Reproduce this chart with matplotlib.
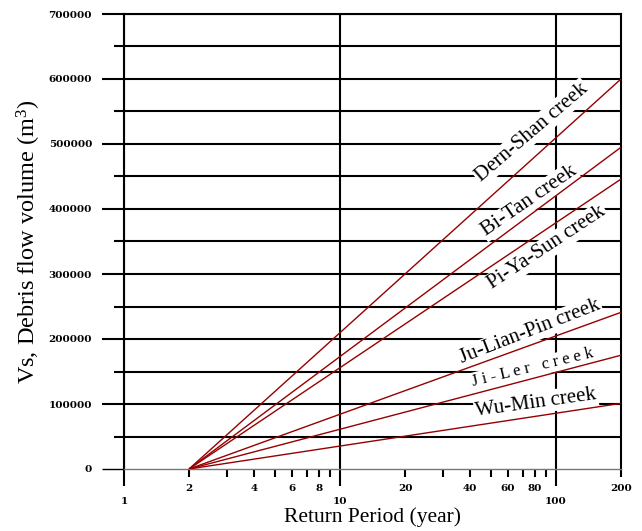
import matplotlib
matplotlib.use("Agg")
import matplotlib.pyplot as plt
from matplotlib.ticker import FixedLocator, FixedFormatter, NullFormatter

plt.rcParams["mathtext.fontset"] = "custom"
plt.rcParams["mathtext.rm"] = "Liberation Serif"
plt.rcParams["mathtext.it"] = "Liberation Serif:italic"

# ---- data ----
creeks = ["Dern-Shan creek", "Bi-Tan creek", "Pi-Ya-Sun creek",
          "Ju-Lian-Pin creek", "Ji-Ler creek", "Wu-Min creek"]
return_period = [2, 200]
dern_shan = [0, 600000]
bi_tan = [0, 495000]
pi_ya_sun = [0, 446000]
ju_lian_pin = [0, 241000]
ji_ler = [0, 175000]
wu_min = [0, 101000]
series = [dern_shan, bi_tan, pi_ya_sun, ju_lian_pin, ji_ler, wu_min]

x_major = [1, 10, 100]
x_minor = [2, 3, 4, 5, 6, 7, 8, 9, 20, 30, 40, 50, 60, 70, 80, 90, 200]
x_minor_labels = ["2", "", "4", "", "6", "", "8", "", "20", "", "40", "", "60", "", "80", "", "200"]
y_major = [0, 100000, 200000, 300000, 400000, 500000, 600000, 700000]
y_minor = [50000, 150000, 250000, 350000, 450000, 550000, 650000]

# ---- layout for the in-plot labels (position x, y, rotation, fontsize, text) ----
label_layout = [
    (77.4, 518000, 40.5, 15, "Dern-Shan creek"),
    (75.0, 412000, 34.5, 15.5, "Bi-Tan creek"),
    (90.8, 340000, 33.4, 15, "Pi-Ya-Sun creek"),
    (75.8, 211000, 21.3, 15, "Ju-Lian-Pin creek"),
    (78.3, 156000, 13.5, 12, "J i - L e r   c r e e k"),
    (80.8, 102000, 8.0, 15, "Wu-Min creek"),
]

fig = plt.figure(figsize=(6.42, 5.31), dpi=100)
ax = fig.add_axes([124/642, (531-469)/531, (621-124)/642, (469-14)/531])
ax.set_xscale("log")
ax.set_xlim(1, 200)
ax.set_ylim(0, 700000)

red = "#960000"
for s in series:
    ax.plot(return_period, s, color=red, lw=1.0, zorder=4, solid_capstyle="butt")

for (x, y, rot, fs, txt) in label_layout:
    ax.text(x, y, txt, rotation=rot, rotation_mode="anchor", ha="center", va="center",
            fontsize=fs, family="Liberation Serif", zorder=3,
            bbox=dict(facecolor="white", edgecolor="none", pad=1.0))

# ticks
ax.xaxis.set_major_locator(FixedLocator(x_major))
ax.xaxis.set_major_formatter(FixedFormatter([str(v) for v in x_major]))
ax.xaxis.set_minor_locator(FixedLocator(x_minor))
ax.xaxis.set_minor_formatter(FixedFormatter(x_minor_labels))
ax.yaxis.set_major_locator(FixedLocator(y_major))
ax.yaxis.set_major_formatter(FixedFormatter([str(v) for v in y_major]))
ax.yaxis.set_minor_locator(FixedLocator(y_minor))
ax.yaxis.set_minor_formatter(NullFormatter())

ax.tick_params(axis="x", which="major", direction="out", length=12, width=1.5, pad=8,
               labelsize=7.5)
ax.tick_params(axis="x", which="minor", direction="out", length=6, width=1.5, pad=5,
               labelsize=7.5)
ax.tick_params(axis="y", which="major", direction="out", length=16, width=1.5, pad=7,
               labelsize=7.5)
ax.tick_params(axis="y", which="minor", direction="out", length=7, width=1.5)
for lab in ax.get_xticklabels(which="both") + ax.get_yticklabels():
    lab.set_family("DejaVu Serif")
    lab.set_fontweight("bold")

ax.set_axisbelow(True)
ax.grid(axis="y", which="both", color="black", lw=1.5)
ax.grid(axis="x", which="major", color="black", lw=1.5)
ax.grid(axis="x", which="minor", visible=False)

for side in ["left", "right", "top"]:
    ax.spines[side].set_linewidth(1.5)
    ax.spines[side].set_color("black")
ax.spines["bottom"].set_linewidth(1.0)
ax.spines["bottom"].set_color("#777777")
t0 = ax.yaxis.get_major_ticks()[0]
t0.tick1line.set_color("#777777")
t0.tick1line.set_markeredgewidth(1.0)
t0.gridline.set_visible(False)

ax.set_xlabel("Return Period (year)", fontsize=15.5, family="Liberation Serif", labelpad=1)
ax.set_ylabel("Vs, Debris flow volume (m$^{3}$)", fontsize=17.5, family="Liberation Serif",
              labelpad=4)

fig.savefig("out.png", dpi=100)
